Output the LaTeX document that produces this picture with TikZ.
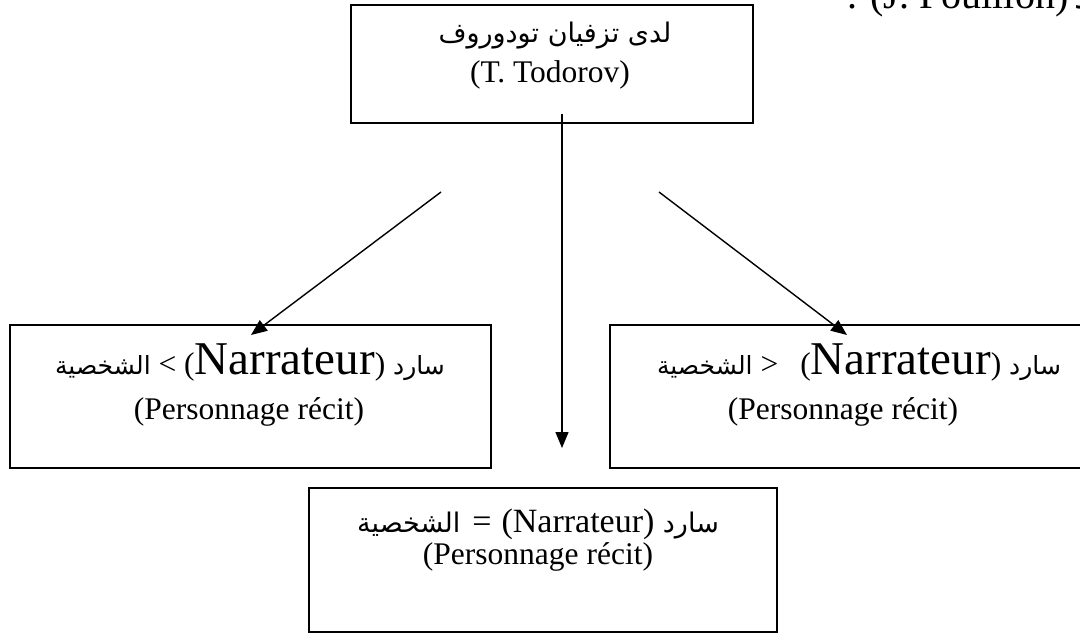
\documentclass[tikz,border=0pt]{standalone}
\usepackage{fontspec}
\setmainfont{Liberation Serif}
\newfontfamily\arabicfont[Script=Arabic]{DejaVu Sans}
\TeXXeTstate=1
\usetikzlibrary{arrows.meta}
\newcommand{\arabictxt}[1]{{\arabicfont\fontsize{25}{30}\selectfont\beginR #1\endR}}
\newcommand{\arabicbig}[1]{{\arabicfont\fontsize{27}{32}\selectfont\beginR #1\endR}}
\newcommand{\bigword}[1]{{\fontsize{47}{56}\selectfont #1}}
\begin{document}
\begin{tikzpicture}[x=1pt,y=-1pt,
  box/.style={draw, line width=2pt, inner sep=0pt, rectangle},
  lbl/.style={inner sep=0pt, anchor=base, font=\fontsize{31.5}{38}\selectfont},
  arr/.style={line width=1.4pt, -{Triangle[length=16pt,width=13pt]}}]
\useasboundingbox (0,0) rectangle (1080,633);
\clip (0,0) rectangle (1080,633);

% boxes
\node[box, minimum width=402pt, minimum height=118pt] (top) at (552,64) {};
\node[box, minimum width=481pt, minimum height=143pt] (left) at (250.5,396.5) {};
\node[box, minimum width=482pt, minimum height=143pt] (right) at (851,396.5) {};
\node[box, minimum width=468pt, minimum height=144pt] (bottom) at (543,560) {};

% texts
\node[inner sep=0pt, anchor=base west, font=\fontsize{40}{48}\selectfont] (pouillon) at (847,8)
  {. (J. Pouillon)\hspace{6pt}{\arabicfont\fontsize{34}{40}\selectfont\beginR عند\endR}};

\node[lbl] (toptxt1) at (555,42) {\arabicbig{لدى تزفيان تودوروف}};
\node[lbl] (toptxt2) at (550,82) {(T. Todorov)};

\node[lbl] (lefttxt1) at (250,374) {\arabictxt{الشخصية} < (\bigword{Narrateur}) \arabictxt{سارد}};
\node[lbl] (lefttxt2) at (249,419) {(Personnage récit)};

\node[lbl] (righttxt1) at (859,374) {\arabictxt{الشخصية} >\hspace{22pt}(\bigword{Narrateur}) \arabictxt{سارد}};
\node[lbl] (righttxt2) at (843,419) {(Personnage récit)};

\node[lbl, font=\fontsize{34}{40}\selectfont] (bottxt1) at (538,532) {\arabicbig{الشخصية}\hspace{12pt}=\hspace{10pt}(Narrateur) \arabicbig{سارد}};
\node[lbl] (bottxt2) at (538,564) {(Personnage récit)};

% connectors
\coordinate (vstart) at (562,114);
\coordinate (vend) at (562,448);
\coordinate (lstart) at (441,192);
\coordinate (ltip) at (251,335);
\coordinate (rstart) at (659,192);
\coordinate (rtip) at (847,335);
\draw[arr] (vstart) -- (vend);
\draw[arr] (lstart) -- (ltip);
\draw[arr] (rstart) -- (rtip);
\end{tikzpicture}
\end{document}
